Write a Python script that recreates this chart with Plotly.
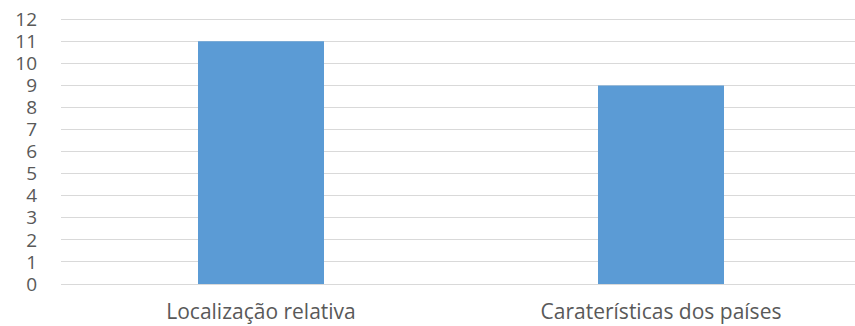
import plotly.graph_objects as go

categories = ["Localização relativa", "Caraterísticas dos países"]
values = [11, 9]
y_ticks = list(range(0, 13))

fig = go.Figure(
    go.Bar(
        x=categories,
        y=values,
        marker=dict(color="#5B9BD5", line=dict(width=0)),
        width=0.315,
    )
)

fig.update_layout(
    width=855,
    height=326,
    margin=dict(l=61, r=0, t=17, b=42, autoexpand=False),
    plot_bgcolor="white",
    paper_bgcolor="white",
    showlegend=False,
    font=dict(family="Open Sans", size=20, color="#595959"),
)
fig.update_yaxes(
    range=[0, 12.1],
    tickvals=y_ticks,
    ticktext=[str(v) for v in y_ticks],
    showgrid=True,
    gridcolor="#D9D9D9",
    gridwidth=1,
    zeroline=False,
    showline=False,
    ticks="",
    automargin=False,
    ticklabeloverflow="allow",
    ticklabelstandoff=23,
    tickfont=dict(size=19),
)
fig.update_xaxes(
    range=[-0.5, 1.485],
    showgrid=False,
    zeroline=False,
    showline=True,
    linecolor="#D9D9D9",
    linewidth=1,
    ticks="",
    automargin=False,
    ticklabelstandoff=9,
    tickfont=dict(size=21),
)

fig.write_html(
    "out.html",
    config={"displayModeBar": False},
    post_script="document.body.style.margin='0';document.body.style.overflow='hidden';",
)
